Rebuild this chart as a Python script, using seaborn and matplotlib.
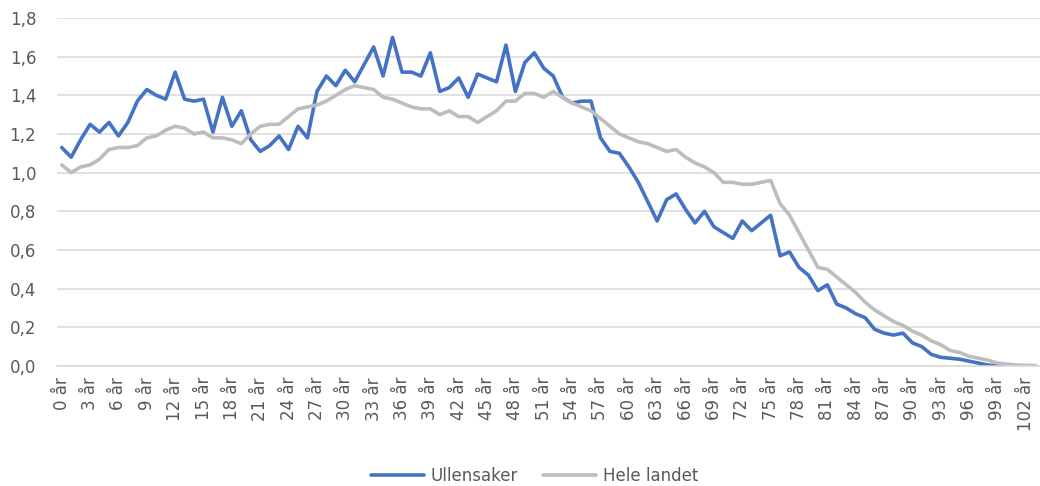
import numpy as np
import pandas as pd
import matplotlib
matplotlib.use("Agg")
import matplotlib.pyplot as plt
import seaborn as sns

ages = list(range(104))
age_labels = [f"{a} år" for a in ages]

ullensaker = [
    1.13, 1.08, 1.17, 1.25, 1.21, 1.26, 1.19, 1.26, 1.37, 1.43,
    1.40, 1.38, 1.52, 1.38, 1.37, 1.38, 1.21, 1.39, 1.24, 1.32,
    1.17, 1.11, 1.14, 1.19, 1.12, 1.24, 1.18, 1.42, 1.50, 1.45,
    1.53, 1.47, 1.56, 1.65, 1.50, 1.70, 1.52, 1.52, 1.50, 1.62,
    1.42, 1.44, 1.49, 1.39, 1.51, 1.49, 1.47, 1.66, 1.42, 1.57,
    1.62, 1.54, 1.50, 1.39, 1.36, 1.37, 1.37, 1.18, 1.11, 1.10,
    1.03, 0.95, 0.85, 0.75, 0.86, 0.89, 0.81, 0.74, 0.80, 0.72,
    0.69, 0.66, 0.75, 0.70, 0.74, 0.78, 0.57, 0.59, 0.51, 0.47,
    0.39, 0.42, 0.32, 0.30, 0.27, 0.25, 0.19, 0.17, 0.16, 0.17,
    0.12, 0.10, 0.06, 0.045, 0.04, 0.035, 0.025, 0.015, 0.005, 0.0,
    0.0, 0.0, 0.0, 0.0,
]

hele_landet = [
    1.04, 1.00, 1.03, 1.04, 1.07, 1.12, 1.13, 1.13, 1.14, 1.18,
    1.19, 1.22, 1.24, 1.23, 1.20, 1.21, 1.18, 1.18, 1.17, 1.15,
    1.20, 1.24, 1.25, 1.25, 1.29, 1.33, 1.34, 1.35, 1.37, 1.40,
    1.43, 1.45, 1.44, 1.43, 1.39, 1.38, 1.36, 1.34, 1.33, 1.33,
    1.30, 1.32, 1.29, 1.29, 1.26, 1.29, 1.32, 1.37, 1.37, 1.41,
    1.41, 1.39, 1.42, 1.39, 1.36, 1.34, 1.32, 1.28, 1.24, 1.20,
    1.18, 1.16, 1.15, 1.13, 1.11, 1.12, 1.08, 1.05, 1.03, 1.00,
    0.95, 0.95, 0.94, 0.94, 0.95, 0.96, 0.84, 0.78, 0.69, 0.60,
    0.51, 0.50, 0.46, 0.42, 0.38, 0.33, 0.29, 0.26, 0.23, 0.21,
    0.18, 0.16, 0.13, 0.11, 0.08, 0.07, 0.05, 0.04, 0.03, 0.015,
    0.01, 0.005, 0.003, 0.002,
]

series_names = ["Ullensaker", "Hele landet"]
colors = {"Ullensaker": "#4472C4", "Hele landet": "#BDBDBD"}
y_ticks = [0.0, 0.2, 0.4, 0.6, 0.8, 1.0, 1.2, 1.4, 1.6, 1.8]

df = pd.DataFrame({
    "alder": ages + ages,
    "verdi": ullensaker + hele_landet,
    "serie": ["Ullensaker"] * len(ages) + ["Hele landet"] * len(ages),
})

sns.set_theme(style="white")
plt.rcParams["font.family"] = ["DejaVu Sans"]
text_color = "#595959"

fig = plt.figure(figsize=(10.4, 4.86), dpi=100)
ax = fig.add_axes([57 / 1040, 120 / 486, 983 / 1040, 348 / 486])

sns.lineplot(data=df, x="alder", y="verdi", hue="serie", hue_order=series_names,
             palette=colors, linewidth=2.6, ax=ax, legend=False)

ax.set_xlim(-0.5, 103.5)
ax.set_ylim(0, 1.8)
ax.set_yticks(y_ticks)
ax.set_yticklabels([f"{v:.1f}".replace(".", ",") for v in y_ticks])
ax.set_xticks(ages[::3])
ax.set_xticklabels(age_labels[::3], rotation=90)
ax.set_xlabel("")
ax.set_ylabel("")

ax.yaxis.grid(True, color="#D9D9D9", linewidth=1.1)
ax.xaxis.grid(False)
ax.set_axisbelow(True)
for s in ["top", "right", "left"]:
    ax.spines[s].set_visible(False)
ax.spines["bottom"].set_color("#D9D9D9")
ax.spines["bottom"].set_linewidth(1.1)

ax.tick_params(axis="y", length=0, pad=15, labelsize=12, labelcolor=text_color)
ax.tick_params(axis="x", length=0, pad=8, labelsize=12, labelcolor=text_color)

handles = ax.get_lines()[:2]
fig.legend(handles, series_names, loc="lower center", bbox_to_anchor=(0.514, -0.028),
           ncol=2, frameon=False, fontsize=12, labelcolor=text_color,
           handlelength=3.2, columnspacing=1.5, handletextpad=0.4)

fig.savefig("out.png", dpi=100)
